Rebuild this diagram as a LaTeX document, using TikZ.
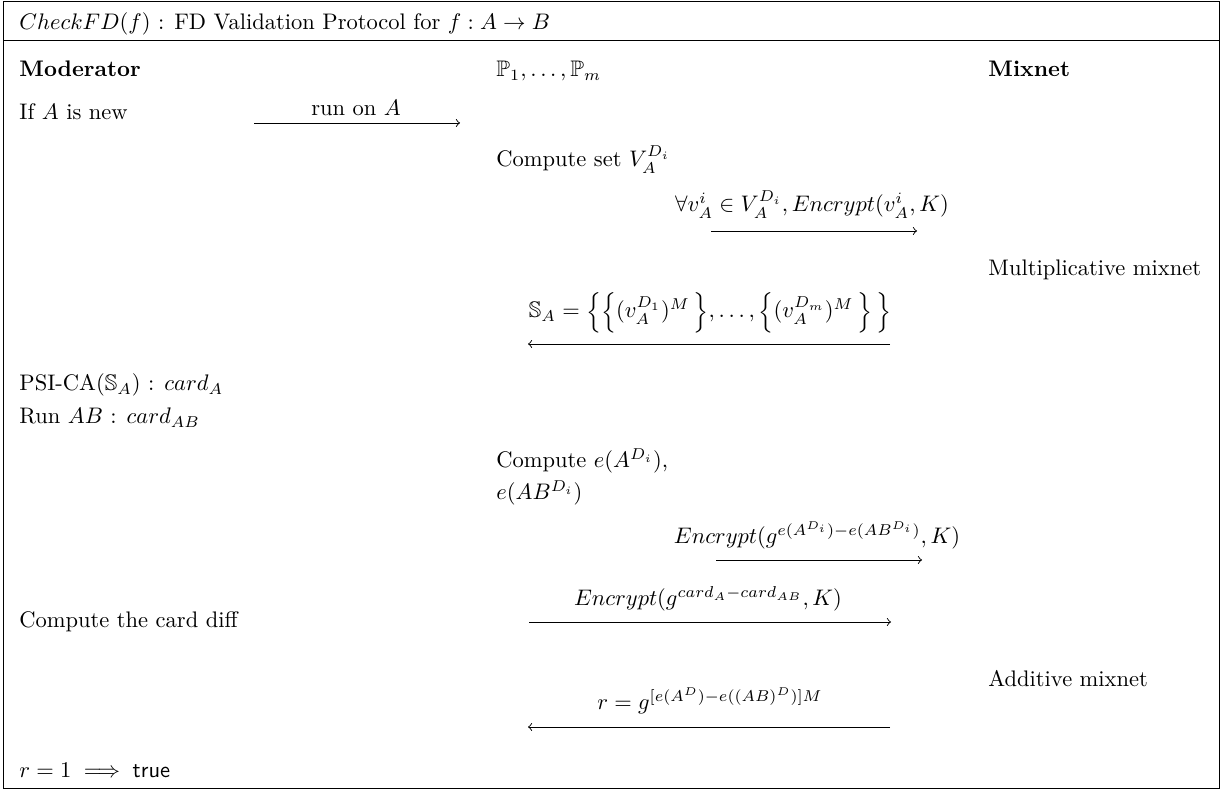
\documentclass[tikz,border=0pt]{standalone}
\usepackage{amsmath,amssymb}
\usetikzlibrary{positioning}
\newcommand{\msgline}[4]{\coordinate (#1a) at (#2,#4); \coordinate (#1b) at (#3,#4); \draw[->] (#1a) -- (#1b);}

\begin{document}
\begin{tikzpicture}[x = 0.4444pt, y = -0.4444pt, txt/.style = {anchor = base west, inner sep = 0pt}, lbl/.style = {anchor = base, inner sep = 0pt}]
\useasboundingbox (0,0) rectangle (1223,791);
\draw (3,1) rectangle (1219,788);
\node[txt] (title) at (19,30) {$CheckFD(f)$ : FD Validation Protocol for $f : A \rightarrow B$};
\draw[line width = 0.3pt] (3,40) -- (1219,40);
% parties
\node[txt, font = \bfseries] (mod) at (19,77) {Moderator};
\node[txt] (parts) at (496,77) {$\mathbb{P}_1, \ldots, \mathbb{P}_m$};
\node[txt, font = \bfseries] (mix) at (988,77) {Mixnet};
% moderator side
\node[txt] (newa) at (19,120) {If $A$ is new};
\node[txt] (psi) at (19,391) {PSI-CA$(\mathbb{S}_A)$ : $card_A$};
\node[txt] (runab) at (19,424) {Run $AB$ : $card_{AB}$};
\node[txt] (diff) at (19,628) {Compute the card diff};
\node[txt] (res) at (19,778) {$r = 1 \implies \textsf{true}$};
% parties side
\node[txt] (setv) at (496,167) {Compute set $V_A^{D_i}$};
\node[txt] (compa) at (496,468) {Compute $e(A^{D_i})$,};
\node[txt] (compab) at (496,500) {$e(AB^{D_i})$};
% mixnet side
\node[txt] (mult) at (988,276) {Multiplicative mixnet};
\node[txt] (add) at (988,687) {Additive mixnet};
% messages
\msgline{m1}{254}{460}{123}
\node[lbl] (m1l) at (356,116) {run on $A$};
\msgline{m2}{711}{917}{231}
\node[lbl] (m2l) at (812,212) {$\forall v_A^i \in V_A^{D_i}, Encrypt(v_A^i, K)$};
\msgline{m3}{890}{528}{344}
\node[lbl] (m3l) at (710,318) {$\mathbb{S}_A = \Big\{\Big\{(v_A^{D_1})^M\,\Big\}, \ldots, \Big\{(v_A^{D_m})^M\,\Big\}\,\Big\}$};
\msgline{m4}{716}{922}{560}
\node[lbl] (m4l) at (817,544) {$Encrypt(g^{e(A^{D_i})-e(AB^{D_i})}, K)$};
\msgline{m5}{529}{891}{622}
\node[lbl] (m5l) at (708,606) {$Encrypt(g^{card_A-card_{AB}}, K)$};
\msgline{m6}{890}{528}{727}
\node[lbl] (m6l) at (710,710) {$r = g^{[e(A^D)-e((AB)^D)]M}$};
\end{tikzpicture}
\end{document}
